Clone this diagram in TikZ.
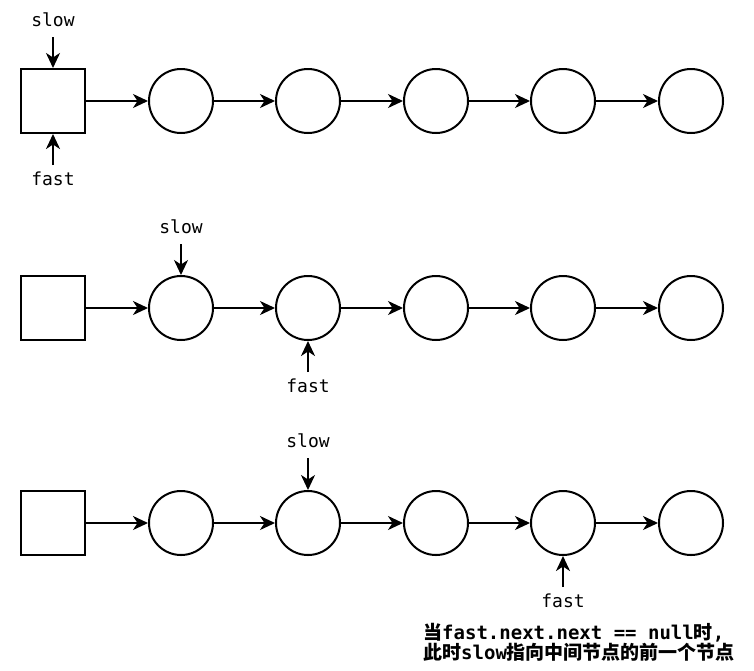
\documentclass[tikz,border=0pt]{standalone}
\usepackage{fontspec}
\setmonofont{DejaVu Sans Mono}
\newfontfamily\cjk{Noto Sans CJK SC}
\usetikzlibrary{arrows.meta}
\begin{document}
\begin{tikzpicture}[x=1pt,y=-1pt,
  sq/.style={draw,rectangle,line width=2pt,minimum size=64pt,inner sep=0pt},
  cir/.style={draw,circle,line width=2pt,minimum size=64pt,inner sep=0pt},
  link/.style={line width=2pt,-{Stealth[length=15pt,width=14pt,inset=4.5pt]}},
  ptr/.style={line width=2pt,-{Stealth[length=15pt,width=14pt,inset=4.5pt]}},
  lbl/.style={inner sep=0pt,font=\ttfamily\fontsize{18}{18}\selectfont},
  note/.style={inner sep=0pt,anchor=north west,align=left,font=\bfseries\ttfamily\fontsize{19}{20}\selectfont}
]
\useasboundingbox (0,0) rectangle (754,670);
\def\cj#1{{\cjk\bfseries\fontsize{19}{20}\selectfont #1}}
% rows
\foreach \r/\y in {a/101,b/308,c/523}{
  \node[sq]  (\r0) at (53,\y) {};
  \node[cir] (\r1) at (181,\y) {};
  \node[cir] (\r2) at (308,\y) {};
  \node[cir] (\r3) at (436,\y) {};
  \node[cir] (\r4) at (563,\y) {};
  \node[cir] (\r5) at (691,\y) {};
  \draw[link] (\r0) -- (\r1);
  \draw[link] (\r1) -- (\r2);
  \draw[link] (\r2) -- (\r3);
  \draw[link] (\r3) -- (\r4);
  \draw[link] (\r4) -- (\r5);
}
% row 1 pointers
\coordinate (sa) at (53,37);
\node[lbl,anchor=south] (slowa) at (53,27) {slow};
\draw[ptr] (sa) -- (a0.north);
\coordinate (fa) at (53,165);
\node[lbl,anchor=north] (fasta) at (53,172) {fast};
\draw[ptr] (fa) -- (a0.south);
% row 2 pointers
\coordinate (sb) at (181,244);
\node[lbl,anchor=south] (slowb) at (181,234) {slow};
\draw[ptr] (sb) -- (b1.north);
\coordinate (fb) at (308,372);
\node[lbl,anchor=north] (fastb) at (308,379) {fast};
\draw[ptr] (fb) -- (b2.south);
% row 3 pointers
\coordinate (sc) at (308,458);
\node[lbl,anchor=south] (slowc) at (308,448) {slow};
\draw[ptr] (sc) -- (c2.north);
\coordinate (fc) at (563,587);
\node[lbl,anchor=north] (fastc) at (563,594) {fast};
\draw[ptr] (fc) -- (c4.south);
% note
\node[note] (t1) at (423,623) {\cj{当}fast.next.next == null\cj{时},\\\cj{此时}slow\cj{指向中间节点的前一个节点}};
\end{tikzpicture}
\end{document}
